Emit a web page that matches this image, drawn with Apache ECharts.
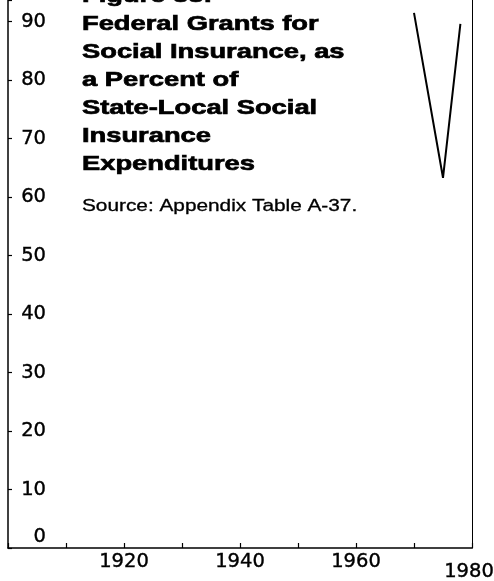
<!DOCTYPE html>
<html>
<head>
<meta charset="utf-8">
<script src="https://cdn.jsdelivr.net/npm/echarts@6/dist/echarts.min.js"></script>
<style>
  html, body { margin: 0; padding: 0; background: #fff; }
  #chart { width: 494px; height: 581px; }
</style>
</head>
<body>
<div id="chart"></div>
<script>
// data
const years = [1970, 1975, 1978];
const percents = [91.5, 63.3, 89.6];
const xLabelYears = [1920, 1940, 1960, 1980];
const titleLines = [
  'Figure 33:',
  'Federal Grants for',
  'Social Insurance, as',
  'a Percent of',
  'State-Local Social',
  'Insurance',
  'Expenditures'
];
const sourceText = 'Source: Appendix Table A-37.';

const yMax = 93.7;
const labelFont = "'DejaVu Sans', sans-serif";
const titleFont = "'Liberation Sans', Arial, sans-serif";

const chart = echarts.init(document.getElementById('chart'), null, { renderer: 'canvas' });

// shared look of the axis numbers (slightly heavy, like the print)
const numStyle = {
  fontFamily: labelFont,
  fontSize: 19.5,
  color: '#000',
  textBorderColor: '#000',
  textBorderWidth: 0.4
};

const option = {
  animation: false,
  backgroundColor: '#fff',
  grid: { left: 8, right: 22, top: 0, bottom: 33, outerBoundsMode: 'none', containLabel: false },
  xAxis: {
    type: 'value',
    min: 1900,
    max: 1980,
    interval: 10,
    splitLine: { show: false },
    axisLine: { show: true, lineStyle: { color: '#000', width: 1.5 } },
    axisTick: { show: true, inside: true, length: 5, lineStyle: { color: '#000', width: 1.2 } },
    axisLabel: Object.assign({}, numStyle, {
      margin: 4,
      formatter: function (v) {
        if (!xLabelYears.includes(v)) return '';
        return v === 1980 ? '{low|' + v + '}' : String(v);
      },
      rich: {
        low: Object.assign({}, numStyle, { padding: [10, 6, 0, 0] })
      }
    })
  },
  yAxis: [
    {
      type: 'value',
      position: 'left',
      min: 0,
      max: yMax,
      interval: 10,
      splitLine: { show: false },
      axisLine: { show: true, lineStyle: { color: '#000', width: 1.5 } },
      axisTick: { show: true, inside: true, length: 4, lineStyle: { color: '#000', width: 1.2 } },
      axisLabel: Object.assign({}, numStyle, {
        inside: true,
        align: 'right',
        margin: 38,
        formatter: function (v) {
          if (v % 10 !== 0) return '';
          return v === 0 ? '{zero|0}' : String(v);
        },
        rich: {
          zero: Object.assign({}, numStyle, { padding: [0, 0, 22, 0] })
        }
      })
    },
    {
      type: 'value',
      position: 'right',
      min: 0,
      max: yMax,
      splitLine: { show: false },
      axisLine: { show: true, lineStyle: { color: '#000', width: 1 } },
      axisTick: { show: false },
      axisLabel: { show: false }
    }
  ],
  graphic: [
    {
      type: 'text',
      x: 82,
      y: -18,
      scaleX: 1.3,
      style: {
        text: titleLines.join('\n'),
        fontFamily: titleFont,
        fontWeight: 'bold',
        fontSize: 21,
        lineHeight: 28,
        fill: '#000',
        stroke: '#000',
        lineWidth: 0.7
      }
    },
    {
      type: 'text',
      x: 82,
      y: 197,
      scaleX: 1.3,
      style: {
        text: sourceText,
        fontFamily: titleFont,
        fontSize: 16,
        lineHeight: 20,
        fill: '#000',
        stroke: '#000',
        lineWidth: 0.3
      }
    }
  ],
  series: [
    {
      type: 'line',
      yAxisIndex: 0,
      data: years.map((y, i) => [y, percents[i]]),
      symbol: 'none',
      lineStyle: { color: '#000', width: 2 }
    }
  ]
};

chart.setOption(option);
</script>
</body>
</html>
